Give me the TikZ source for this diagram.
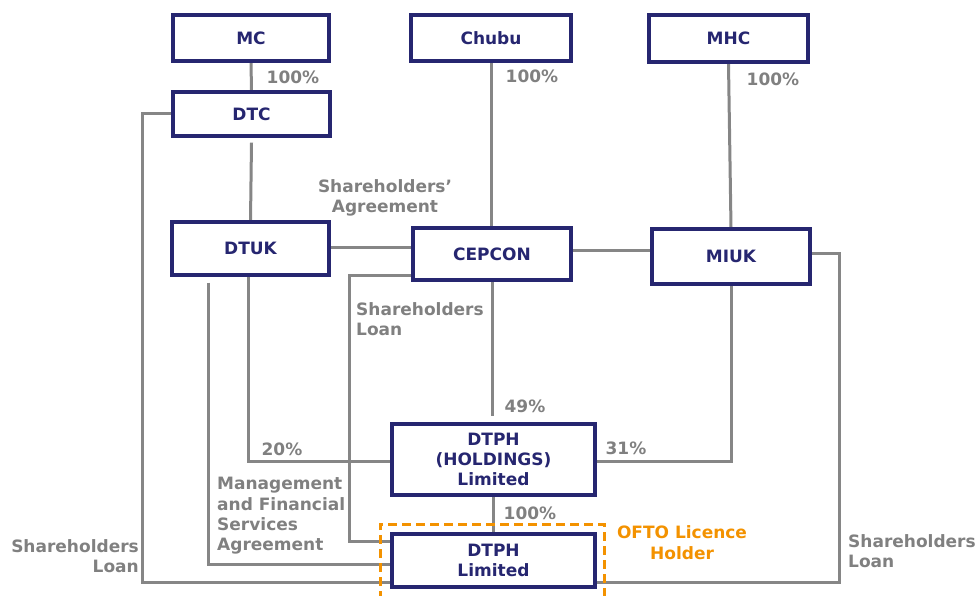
\documentclass[tikz,border=0pt]{standalone}
\usepackage{fontspec}
\setmainfont{DejaVu Sans}
\usetikzlibrary{backgrounds}
\definecolor{navy}{RGB}{38,38,112}
\definecolor{lgray}{RGB}{134,134,134}
\definecolor{tgray}{RGB}{128,128,128}
\definecolor{oftoc}{RGB}{243,146,0}
\tikzset{
  box/.style={draw=navy, fill=white, line width=3.2pt, text=navy,
    font=\bfseries\fontsize{17}{20.4}\selectfont, align=center, inner sep=0pt},
  lbl/.style={text=tgray, font=\bfseries\fontsize{17}{20.4}\selectfont, inner sep=0pt},
  olbl/.style={text=oftoc, font=\bfseries\fontsize{17}{20.4}\selectfont, inner sep=0pt, align=center},
  conn/.style={draw=lgray, line width=3pt},
  oftobox/.style={draw=oftoc, line width=3pt, dash pattern=on 9pt off 5pt},
}
\begin{document}
\begin{tikzpicture}[x=1pt,y=-1pt]
\useasboundingbox (0,0) rectangle (978,595);
\clip (0,0) rectangle (978,595);
% boxes
\node[box, minimum width=156pt, minimum height=46pt] (mc) at (251,38) {MC};
\node[box, minimum width=160pt, minimum height=46pt] (chubu) at (491,38) {Chubu};
\node[box, minimum width=159pt, minimum height=47pt] (mhc) at (728.5,38.5) {MHC};
\node[box, minimum width=157pt, minimum height=44pt] (dtc) at (251.5,114) {DTC};
\node[box, minimum width=157pt, minimum height=53pt] (dtuk) at (250.5,248.5) {DTUK};
\node[box, minimum width=158pt, minimum height=52pt] (cepcon) at (492,254) {CEPCON};
\node[box, minimum width=158pt, minimum height=55pt] (miuk) at (731,256.5) {MIUK};
\node[box, minimum width=203pt, minimum height=71pt] (hold) at (493.5,459.5) {DTPH\\(HOLDINGS)\\Limited};
\node[box, minimum width=203pt, minimum height=53pt] (lim) at (493.5,560.5) {DTPH\\Limited};
% connectors
\begin{scope}[on background layer]
\draw[conn] (mc.south) -- (dtc.north);
\draw[conn] ([yshift=-5pt]dtc.south) -- (dtuk.north);
\draw[conn] (chubu.south) -- (chubu.south |- cepcon.north);
\draw[conn] (mhc.south) -- (miuk.north);
\draw[conn] ([yshift=1pt]dtuk.east) -- ([yshift=1pt]dtuk.east -| cepcon.west);
\draw[conn] ([yshift=4pt]cepcon.east) -- ([yshift=4pt]cepcon.east -| miuk.west);
\draw[conn] (cepcon.south) -- ([yshift=6pt]cepcon.south |- hold.north);
\draw[conn] ([xshift=-2pt]dtuk.south) |- ([yshift=-1.5pt]hold.west);
\draw[conn] (miuk.south) |- ([yshift=-1.5pt]hold.east);
\draw[conn] (hold.south) -- (lim.north);
\draw[conn] ([yshift=6pt]cepcon.south west) -- ++(-62,0) |- ([yshift=19.5pt]lim.west);
\draw[conn] ([xshift=-42.5pt,yshift=-6pt]dtuk.south) |- ([yshift=-3.5pt]lim.west);
\draw[conn] ([yshift=1pt]dtc.west) -- ++(-29,0) |- ([yshift=-22pt]lim.west);
\draw[conn] ([yshift=3.5pt]miuk.east) -- ++(28,0) |- ([yshift=-22pt]lim.east);
\end{scope}
% OFTO dashed frame
\draw[oftobox] (380,600) -- (380,524) -- (604,524) -- (604,600);
% labels
\node[lbl] (p1) at (293,77) {100\%};
\node[lbl] (p2) at (532,76) {100\%};
\node[lbl] (p3) at (773,79) {100\%};
\node[lbl, align=center] (sa) at (385,198) {Shareholders’\\Agreement};
\node[lbl, align=left, anchor=west] (slm) at (356,319) {Shareholders\\Loan};
\node[lbl] (p49) at (525,406) {49\%};
\node[lbl] (p20) at (282,449) {20\%};
\node[lbl] (p31) at (626,448) {31\%};
\node[lbl] (p100) at (530,513) {100\%};
\node[olbl] (oftol) at (682,542.5) {OFTO Licence\\Holder};
\node[lbl, align=left, anchor=west] (mfsa) at (217,516) {Management\\and Financial\\Services\\Agreement};
\node[lbl, align=right, anchor=east] (sll) at (139,556) {Shareholders\\Loan};
\node[lbl, align=left, anchor=west] (slr) at (848,551) {Shareholders\\Loan};
\end{tikzpicture}
\end{document}
